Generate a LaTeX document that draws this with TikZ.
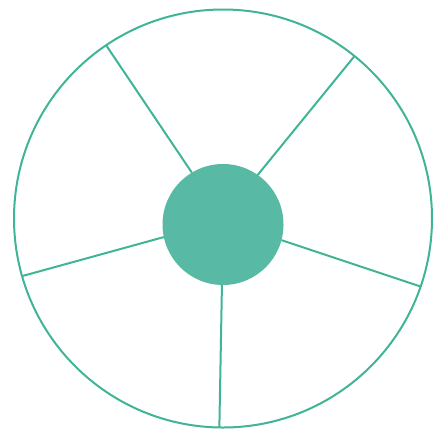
\documentclass[tikz,border=0pt]{standalone}
\begin{document}
\begin{tikzpicture}[x=1pt,y=-1pt]
\definecolor{tealline}{RGB}{64,180,150}
\definecolor{tealfill}{RGB}{88,186,165}
\tikzset{
  rim/.style={circle, draw=tealline, line width=2pt, minimum size=418pt, inner sep=0pt, outer sep=0pt},
  hubstyle/.style={circle, fill=tealfill, minimum size=121pt, inner sep=0pt, outer sep=0pt},
  spoke/.style={draw=tealline, line width=2pt}
}
\useasboundingbox (0,0) rectangle (435,429);
\node[rim] (outer) at (223,218.5) {};
\node[hubstyle] (hub) at (223,224.5) {};
\draw[spoke] (hub.121.9) -- (outer.124.2);
\draw[spoke] (hub.55.3) -- (outer.51.9);
\draw[spoke] (hub.-15.6) -- (outer.-19.8);
\draw[spoke] (hub.-91.9) -- (outer.-91.6);
\draw[spoke] (hub.192.2) -- (outer.196.0);
\end{tikzpicture}
\end{document}
